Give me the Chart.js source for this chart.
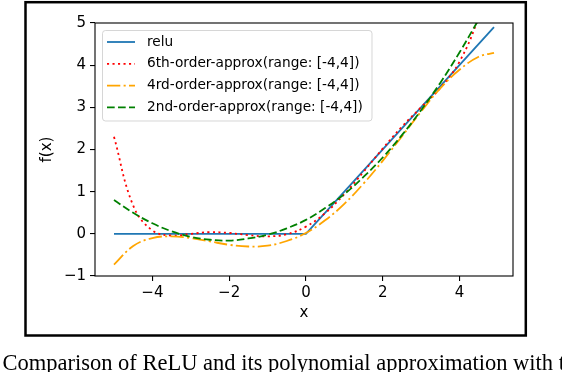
<!DOCTYPE html>
<html>
<head>
<meta charset="utf-8">
<script src="https://cdn.jsdelivr.net/npm/chart.js@4.4.1/dist/chart.umd.min.js"></script>
<style>
  html, body { margin: 0; padding: 0; background: #fff; overflow: hidden; }
  #wrap { position: relative; width: 562px; height: 372px; }
  #caption { position: absolute; left: 2.5px; top: 352px; font-family: "Liberation Serif", serif; font-size: 22.5px; line-height: 22.5px; white-space: nowrap; color: #000; }
</style>
</head>
<body>
<div id="wrap">
  <canvas id="myChart" width="562" height="372"></canvas>
  <div id="caption">Comparison of ReLU and its polynomial approximation with the</div>
</div>
<script>
// values
var xs = [-5, -4.5, -4, -3.5, -3, -2.5, -2, -1.5, -1, -0.5, 0, 0.5, 1, 1.5, 2, 2.5, 3, 3.5, 4, 4.5, 4.9];
var reluX = [-5, 0, 4.9];
var reluY = [0, 0, 4.9];
var approx6 = [2.30, 0.67, 0.08, -0.04, 0.00, 0.04, 0.02, -0.03, -0.06, -0.01, 0.17, 0.49, 0.94, 1.47, 2.02, 2.54, 3.00, 3.46, 4.08, 5.17, 6.75];
var approx4 = [-0.73, -0.29, -0.10, -0.06, -0.10, -0.18, -0.26, -0.30, -0.28, -0.17, 0.02, 0.32, 0.71, 1.19, 1.73, 2.31, 2.90, 3.45, 3.89, 4.20, 4.29];
var approx2 = [0.80, 0.50, 0.25, 0.06, -0.07, -0.14, -0.16, -0.11, -0.02, 0.13, 0.33, 0.61, 0.94, 1.35, 1.81, 2.34, 2.93, 3.58, 4.30, 5.08, 5.70];
var xTicks = [-4, -2, 0, 2, 4];
var yTicks = [-1, 0, 1, 2, 3, 4, 5];
var seriesNames = ['relu', '6th-order-approx(range: [-4,4])', '4rd-order-approx(range: [-4,4])', '2nd-order-approx(range: [-4,4])'];

function points(xv, yv) {
    return xv.map(function (x, i) { return { x: x, y: yv[i] }; });
}

function fmt(v) {
    return v < 0 ? '\u2212' + (-v) : '' + v;
}

var tickFont = { family: 'DejaVu Sans', size: 15 };

// outer frame, axes box and the legend inside the plot
var frame = {
    id: 'frame',
    beforeDraw: function (chart) {
        var ctx = chart.ctx;
        ctx.save();
        ctx.fillStyle = '#fff';
        ctx.fillRect(0, 0, chart.width, chart.height);
        ctx.strokeStyle = '#000';
        ctx.lineWidth = 2.5;
        ctx.strokeRect(25.5, 2.2, 500.3, 333.3);
        ctx.restore();
    },
    afterDraw: function (chart) {
        var a = chart.chartArea, ctx = chart.ctx;
        ctx.save();
        ctx.strokeStyle = '#000';
        ctx.lineWidth = 1.1;
        ctx.strokeRect(a.left, a.top, a.right - a.left, a.bottom - a.top);

        var lx = 102.5, ly = 30.5, lw = 269.5, lh = 90.5, r = 3;
        ctx.beginPath();
        ctx.moveTo(lx + r, ly);
        ctx.arcTo(lx + lw, ly, lx + lw, ly + lh, r);
        ctx.arcTo(lx + lw, ly + lh, lx, ly + lh, r);
        ctx.arcTo(lx, ly + lh, lx, ly, r);
        ctx.arcTo(lx, ly, lx + lw, ly, r);
        ctx.closePath();
        ctx.fillStyle = 'rgba(255,255,255,0.8)';
        ctx.fill();
        ctx.strokeStyle = 'rgba(204,204,204,0.8)';
        ctx.lineWidth = 1;
        ctx.stroke();

        chart.data.datasets.forEach(function (ds, i) {
            var y = 42 + i * 21.8;
            ctx.beginPath();
            ctx.setLineDash(ds.borderDash || []);
            ctx.strokeStyle = ds.borderColor;
            ctx.lineWidth = ds.borderWidth;
            ctx.moveTo(107, y);
            ctx.lineTo(135, y);
            ctx.stroke();
            ctx.setLineDash([]);
            ctx.fillStyle = '#000';
            ctx.font = '13.7px "DejaVu Sans"';
            ctx.textBaseline = 'middle';
            ctx.fillText(ds.label, 147, y);
        });
        ctx.restore();
    }
};

const ctx = document.getElementById('myChart').getContext('2d');
const myChart = new Chart(ctx, {
    type: 'line',
    data: {
        datasets: [{
            label: seriesNames[0],
            data: points(reluX, reluY),
            borderColor: '#1f77b4',
            borderWidth: 1.8,
            tension: 0,
            order: 3
        }, {
            label: seriesNames[1],
            data: points(xs, approx6),
            borderColor: '#ff0000',
            borderWidth: 1.8,
            borderDash: [2.1, 3.4],
            tension: 0.4,
            order: 2
        }, {
            label: seriesNames[2],
            data: points(xs, approx4),
            borderColor: '#ffa500',
            borderWidth: 1.8,
            borderDash: [13.3, 3.3, 2.1, 3.3],
            tension: 0.4,
            order: 1
        }, {
            label: seriesNames[3],
            data: points(xs, approx2),
            borderColor: '#008000',
            borderWidth: 1.8,
            borderDash: [7.7, 3.3],
            tension: 0.4,
            order: 0
        }]
    },
    options: {
        responsive: false,
        animation: false,
        devicePixelRatio: 1,
        elements: { point: { radius: 0 } },
        layout: { padding: { left: 0, right: 49, top: 23, bottom: 0 } },
        plugins: {
            legend: { display: false },
            tooltip: { enabled: false }
        },
        scales: {
            x: {
                type: 'linear',
                min: -5.495,
                max: 5.395,
                afterBuildTicks: function (scale) {
                    scale.ticks = xTicks.map(function (v) { return { value: v }; });
                },
                afterFit: function (scale) { scale.height = 96; },
                grid: { display: true, drawOnChartArea: false, drawTicks: true, tickLength: 5, color: '#000', lineWidth: 1.1 },
                border: { display: false },
                ticks: { padding: 3, color: '#000', font: tickFont, callback: fmt, maxRotation: 0, autoSkip: false },
                title: { display: true, text: 'x', color: '#000', font: tickFont, padding: { top: 0, bottom: 49.5 } }
            },
            y: {
                type: 'linear',
                min: -1,
                max: 5,
                afterBuildTicks: function (scale) {
                    scale.ticks = yTicks.map(function (v) { return { value: v }; });
                },
                afterFit: function (scale) { scale.width = 95; },
                grid: { display: true, drawOnChartArea: false, drawTicks: true, tickLength: 5, color: '#000', lineWidth: 1.1 },
                border: { display: false },
                ticks: { padding: 4, color: '#000', font: tickFont, callback: fmt, autoSkip: false },
                title: { display: true, text: 'f(x)', color: '#000', font: tickFont, padding: { top: 38, bottom: 0 } }
            }
        }
    },
    plugins: [frame]
});
</script>
</body>
</html>
